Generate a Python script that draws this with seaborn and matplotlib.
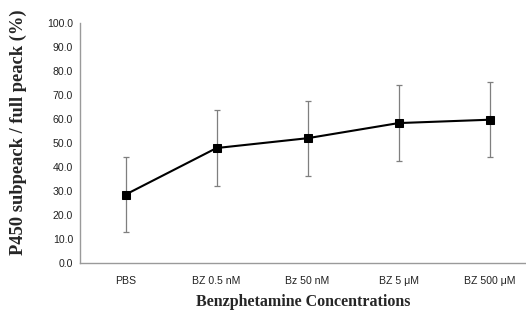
import numpy as np
import pandas as pd
import seaborn as sns
import matplotlib.pyplot as plt

concentrations = ["PBS", "BZ 0.5 nM", "Bz 50 nM", "BZ 5 μM", "BZ 500 μM"]
mean_ratio = [28.5, 47.9, 52.0, 58.3, 59.7]
sd_ratio = [15.7, 15.7, 15.7, 15.8, 15.7]

df = pd.DataFrame({
    "pos": np.arange(len(concentrations)),
    "Concentration": concentrations,
    "Mean": mean_ratio,
    "SD": sd_ratio,
})

sns.set_style("white")
fig = plt.figure(figsize=(5.26, 3.16), dpi=100)
ax = fig.add_axes([80 / 526, 53 / 316, 446 / 526, 240 / 316])

ax.errorbar(df["pos"], df["Mean"], yerr=df["SD"], fmt="none",
            ecolor="#7f7f7f", elinewidth=0.9, capsize=2, capthick=0.9, zorder=2)
sns.lineplot(data=df, x="pos", y="Mean", ax=ax, color="black", linewidth=1.5,
             marker="s", markersize=6, markeredgecolor="black", zorder=3)

ax.set_xlim(-0.5, 4.4)
ax.set_ylim(0, 100)
ax.set_yticks(np.arange(0, 101, 10))
ax.set_yticklabels([f"{v:.1f}" for v in np.arange(0, 101, 10)],
                   fontsize=7.6, family="Liberation Sans", color="#222222")
ax.set_xticks(df["pos"])
ax.set_xticklabels(concentrations, fontsize=7.6, family="Liberation Sans",
                   color="#222222")
ax.set_xticks(np.arange(0.5, 4.5, 1), minor=True)
ax.tick_params(axis="x", which="major", length=0, pad=9)
ax.tick_params(axis="x", which="minor", length=3, color="#9a9a9a", direction="in")
ax.tick_params(axis="y", length=3, color="#9a9a9a", direction="out", pad=2)

for side in ["top", "right"]:
    ax.spines[side].set_visible(False)
for side in ["left", "bottom"]:
    ax.spines[side].set_color("#9a9a9a")
    ax.spines[side].set_linewidth(1)

ax.set_xlabel("Benzphetamine Concentrations", fontsize=11.5, fontweight="bold",
              family="Liberation Serif", labelpad=6)
ax.set_ylabel("P450 subpeack / full peack (%)", fontsize=13.3, fontweight="bold",
              family="Liberation Serif")
ax.yaxis.set_label_coords(-0.118, 0.545)

fig.savefig("out.png", dpi=100)
